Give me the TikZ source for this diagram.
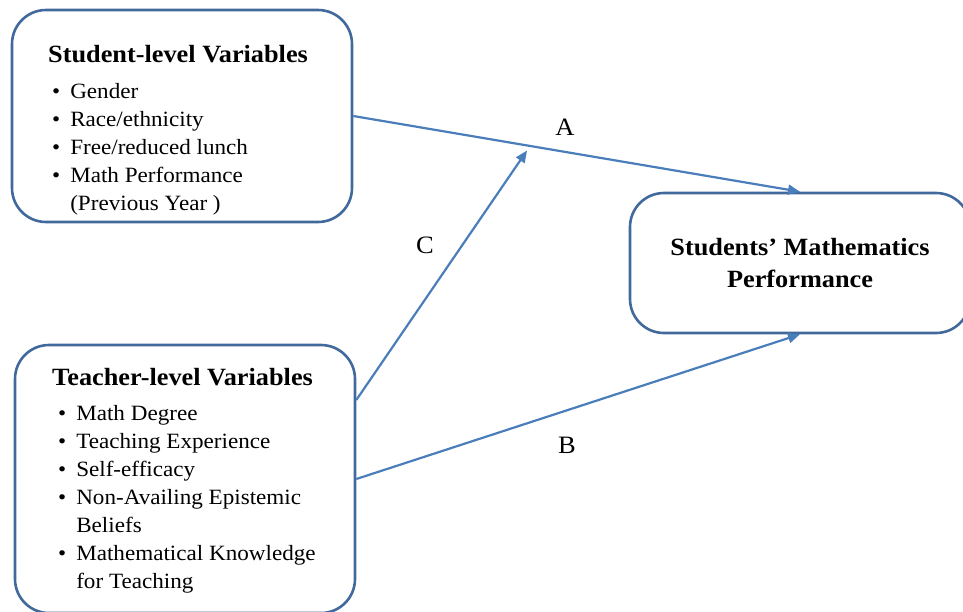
\documentclass[tikz,border=0pt]{standalone}
\usepackage{fontspec}
\setmainfont{Liberation Serif}[FakeStretch=1.06]
\usetikzlibrary{arrows.meta,calc}
\definecolor{boxblue}{RGB}{65,105,155}
\definecolor{linkblue}{RGB}{74,126,187}
\begin{document}
\begin{tikzpicture}[x=1pt,y=-1pt,
    varbox/.style={draw=boxblue, line width=2.6pt, rounded corners=34pt, inner sep=0pt},
    link/.style={draw=linkblue, line width=2.2pt, -{Triangle[length=12pt,width=10pt]}},
    heading/.style={font=\fontsize{24.8}{26}\selectfont\bfseries, inner sep=0pt, anchor=base west},
    itemlist/.style={font=\fontsize{21.8}{28}\selectfont, inner sep=0pt, anchor=base west},
    pathname/.style={font=\fontsize{25}{28}\selectfont, inner sep=0pt}]
    \useasboundingbox (0,0) rectangle (963,611);

    % Variable boxes
    \node[varbox, minimum width=340pt, minimum height=212pt] (stud) at (182,116) {};
    \node[varbox, minimum width=340pt, minimum height=268pt] (teach) at (185,479) {};
    \node[varbox, minimum width=340pt, minimum height=140pt, align=center,
          font=\fontsize{24.8}{32}\selectfont\bfseries] (perf) at (800,263)
          {Students’ Mathematics\\Performance};

    % Box contents
    \node[heading] (studhead) at (48,62) {Student-level Variables};
    \node[itemlist] (studlist) at (52,98) {\begin{tabular}[t]{@{}l@{\hspace{10pt}}l@{}}
        • & Gender\\
        • & Race/ethnicity\\
        • & Free/reduced lunch\\
        • & Math Performance\\
          & (Previous Year )
    \end{tabular}};
    \node[heading] (teachhead) at (52,385) {Teacher-level Variables};
    \node[itemlist] (teachlist) at (58,420) {\begin{tabular}[t]{@{}l@{\hspace{10pt}}l@{}}
        • & Math Degree\\
        • & Teaching Experience\\
        • & Self-efficacy\\
        • & Non-Availing Epistemic\\
          & Beliefs\\
        • & Mathematical Knowledge\\
          & for Teaching
    \end{tabular}};

    % Paths
    \coordinate (midA) at ($(stud.east)!0.389!(perf.north)$);
    \draw[link] (stud.east) -- (perf.north);
    \draw[link] (teach.east) -- (perf.south);
    \draw[link] ([yshift=79pt]teach.east) -- ([yshift=-5pt]midA);

    \node[pathname] (lblA) at (565,127) {A};
    \node[pathname] (lblB) at (567,445) {B};
    \node[pathname] (lblC) at (425,245) {C};
\end{tikzpicture}
\end{document}
